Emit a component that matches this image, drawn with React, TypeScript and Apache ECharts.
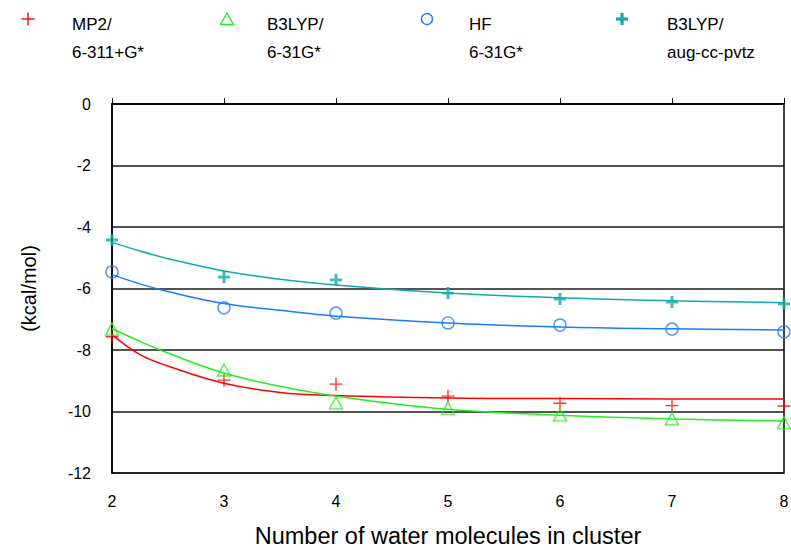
import React, { useEffect, useRef } from "react";
import * as echarts from "echarts";

const xValues = [2, 3, 4, 5, 6, 7, 8];
const mp2Values = [-7.57, -8.98, -9.11, -9.5, -9.73, -9.81, -9.82];
const b3lypValues = [-7.32, -8.65, -9.72, -9.89, -10.11, -10.24, -10.37];
const hfValues = [-5.46, -6.63, -6.8, -7.12, -7.19, -7.32, -7.41];
const augValues = [-4.42, -5.63, -5.72, -6.15, -6.34, -6.44, -6.5];

const trendX = [2, 2.25, 2.5, 3, 3.5, 4, 5, 6, 7, 8];
const mp2Trend = [-7.5, -8.15, -8.52, -9.08, -9.38, -9.48, -9.56, -9.58, -9.59, -9.59];
const b3lypTrend = [-7.3, -7.72, -8.1, -8.75, -9.18, -9.5, -9.93, -10.12, -10.24, -10.31];
const hfTrend = [-5.55, -5.85, -6.1, -6.49, -6.71, -6.9, -7.12, -7.25, -7.31, -7.35];
const augTrend = [-4.5, -4.78, -5.03, -5.43, -5.7, -5.89, -6.15, -6.3, -6.4, -6.46];

const yTicks = [-12, -10, -8, -6, -4, -2, 0];

const legendLines = [
  ["MP2/", "6-311+G*"],
  ["B3LYP/", "6-31G*"],
  ["HF", "6-31G*"],
  ["B3LYP/", "aug-cc-pvtz"],
];

const RED = "#ff0000";
const GREEN = "#22ee22";
const BLUE = "#1a7cff";
const TEAL = "#10aaaa";

const thinPlus = "path://M5.8,0H7.2V5.8H13V7.2H7.2V13H5.8V7.2H0V5.8H5.8Z";
const thickPlus = "path://M4.9,0H8.1V4.9H13V8.1H8.1V13H4.9V8.1H0V4.9H4.9Z";

const FONT = "'Liberation Sans', Arial, sans-serif";

function zip(xs: number[], ys: number[]) {
  return xs.map((x, i) => [x, ys[i]]);
}

function plusShape(cx: number, cy: number, half: number, th: number, color: string) {
  return [
    { type: "rect", shape: { x: cx - half, y: cy - th / 2, width: half * 2, height: th }, style: { fill: color } },
    { type: "rect", shape: { x: cx - th / 2, y: cy - half, width: th, height: half * 2 }, style: { fill: color } },
  ];
}

export default function App() {
  const ref = useRef<HTMLDivElement>(null);
  useEffect(() => {
    if (!ref.current) return;
    const chart = echarts.init(ref.current, undefined, { renderer: "svg", width: 791, height: 550 });

    const legendX = [
      { sx: 28, tx: 72 },
      { sx: 227, tx: 267 },
      { sx: 427, tx: 469 },
      { sx: 622, tx: 667 },
    ];
    const sy = 19;
    const graphics: any[] = [];
    graphics.push(...plusShape(legendX[0].sx, sy, 6.5, 1.4, RED));
    graphics.push({
      type: "polygon",
      shape: { points: [[legendX[1].sx, sy - 6], [legendX[1].sx - 6.5, sy + 5.5], [legendX[1].sx + 6.5, sy + 5.5]] },
      style: { fill: "none", stroke: GREEN, lineWidth: 1.4 },
    });
    graphics.push({
      type: "circle",
      shape: { cx: legendX[2].sx, cy: sy, r: 5.5 },
      style: { fill: "none", stroke: BLUE, lineWidth: 1.4 },
    });
    graphics.push(...plusShape(legendX[3].sx, sy, 6, 3.2, TEAL));
    legendLines.forEach((lines, i) => {
      lines.forEach((t, j) => {
        graphics.push({
          type: "text",
          x: legendX[i].tx,
          y: 24 + j * 28,
          style: { text: t, fill: "#000", font: `17px ${FONT}`, textAlign: "left", textVerticalAlign: "middle" },
        });
      });
    });

    const lineSeries = (name: string, data: number[], color: string) => ({
      name: name + " fit",
      type: "line",
      data: zip(trendX, data),
      smooth: 0.4,
      showSymbol: false,
      symbol: "none",
      lineStyle: { color, width: 1.5 },
      z: 2,
      silent: true,
    });

    chart.setOption({
      animation: false,
      backgroundColor: "#fff",
      grid: {
        left: 112,
        right: 7,
        top: 104,
        bottom: 77,
        containLabel: false,
        outerBoundsMode: "none",
        show: true,
        borderColor: "#000",
        borderWidth: 1.5,
      },
      xAxis: {
        type: "value",
        min: 2,
        max: 8,
        interval: 1,
        name: "Number of water molecules in cluster",
        nameLocation: "middle",
        nameGap: 51,
        nameTextStyle: { fontSize: 23.5, color: "#000", fontFamily: FONT },
        axisLine: { lineStyle: { color: "#000", width: 1.5 } },
        axisTick: { inside: true, length: 6, lineStyle: { color: "#000", width: 1 } },
        axisLabel: { fontSize: 16, color: "#000", fontFamily: FONT, margin: 20 },
        splitLine: { show: false },
      },
      yAxis: {
        type: "value",
        min: yTicks[0],
        max: yTicks[yTicks.length - 1],
        interval: 2,
        name: "(kcal/mol)",
        nameLocation: "middle",
        nameGap: 73,
        nameRotate: 90,
        nameTextStyle: { fontSize: 20, color: "#000", fontFamily: FONT },
        axisLine: { show: true, lineStyle: { color: "#000", width: 1.5 } },
        axisTick: { show: false },
        axisLabel: { fontSize: 16, color: "#000", fontFamily: FONT, margin: 21 },
        splitLine: { show: true, lineStyle: { color: "#1a1a1a", width: 1.5 } },
      },
      graphic: graphics,
      series: [
        lineSeries("MP2", mp2Trend, RED),
        lineSeries("B3LYP 6-31G*", b3lypTrend, GREEN),
        lineSeries("HF", hfTrend, BLUE),
        lineSeries("B3LYP aug", augTrend, TEAL),
        {
          name: "MP2/6-311+G*",
          type: "scatter",
          data: zip(xValues, mp2Values),
          symbol: thinPlus,
          symbolSize: 13,
          itemStyle: { color: RED },
          clip: false,
          z: 3,
        },
        {
          name: "B3LYP/6-31G*",
          type: "scatter",
          data: zip(xValues, b3lypValues),
          symbol: "triangle",
          symbolSize: [13, 12],
          itemStyle: { color: "transparent", borderColor: GREEN, borderWidth: 1.4 },
          clip: false,
          z: 3,
        },
        {
          name: "HF/6-31G*",
          type: "scatter",
          data: zip(xValues, hfValues),
          symbol: "circle",
          symbolSize: 12,
          itemStyle: { color: "transparent", borderColor: BLUE, borderWidth: 1.4 },
          clip: false,
          z: 3,
        },
        {
          name: "B3LYP/aug-cc-pvtz",
          type: "scatter",
          data: zip(xValues, augValues),
          symbol: thickPlus,
          symbolSize: 12,
          itemStyle: { color: TEAL },
          clip: false,
          z: 3,
        },
      ],
    });
    return () => chart.dispose();
  }, []);
  return (
    <div
      ref={ref}
      style={{ position: "absolute", left: 0, top: 0, width: 791, height: 550, overflow: "hidden" }}
    />
  );
}
